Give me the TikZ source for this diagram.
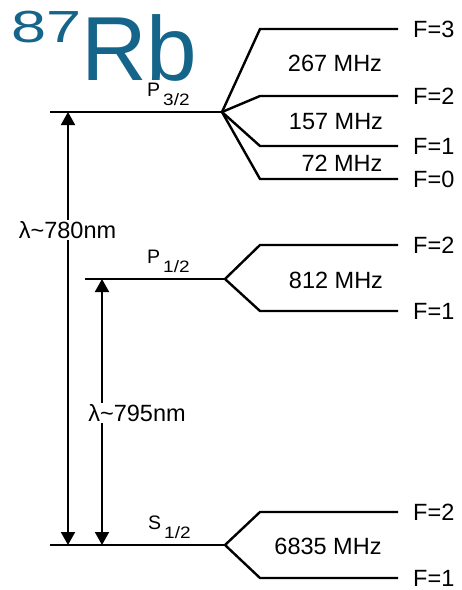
\documentclass[tikz,border=0pt]{standalone}
\usepackage{fontspec}
\setmainfont{Liberation Sans}
\usepackage{xcolor}
\usetikzlibrary{arrows.meta, positioning}
\definecolor{Rb_Teal}{HTML}{15658A}
\newcommand{\termsym}[2]{#1\hspace{3pt}\raisebox{-9pt}{\fontsize{16.5}{18}\selectfont\scalebox{1.15}[1]{#2}}}

\begin{document}
\begin{tikzpicture}[x=1pt, y=-1pt,
    level/.style={line width=2.4pt},
    transition/.style={line width=2pt, {Triangle[length=13pt,width=14pt]}-{Triangle[length=13pt,width=14pt]}},
    flabel/.style={anchor=west, inner sep=0pt, font=\fontsize{23.5}{28}\selectfont},
    split/.style={inner sep=0pt, font=\fontsize{23.5}{28}\selectfont},
    term/.style={anchor=base west, inner sep=0pt, font=\fontsize{19.5}{22}\selectfont},
    wave/.style={fill=white, inner sep=1pt, font=\fontsize{23.5}{28}\selectfont}]
    \useasboundingbox (0,0) rectangle (462,590);

    % Isotope title
    \node[anchor=base west, inner sep=0pt, Rb_Teal, font=\fontsize{91}{100}\selectfont] (rb) at (81,80) {Rb};
    \node[anchor=base west, inner sep=0pt, Rb_Teal, font=\fontsize{45}{50}\selectfont] (mass) at (11,42) {\scalebox{1.4}[1]{87}};

    % Fine structure levels
    \coordinate (p32) at (50,112);   \coordinate (p32x) at (222,112);
    \coordinate (p12) at (85,279);   \coordinate (p12x) at (225,279);
    \coordinate (s12) at (50,545);   \coordinate (s12x) at (225,545);
    \draw[level] (p32) -- (p32x);
    \draw[level] (p12) -- (p12x);
    \draw[level] (s12) -- (s12x);

    \node[term] (p32lbl) at (147,96) {\termsym{P}{3/2}};
    \node[term] (p12lbl) at (147,263) {\termsym{P}{1/2}};
    \node[term] (s12lbl) at (148,529) {\termsym{S}{1/2}};

    % Hyperfine splitting of P3/2
    \foreach \f/\y in {3/29, 2/96, 1/146, 0/179} {
        \draw[level] (p32x) -- (260,\y) -- (398,\y) coordinate (p32f\f);
        \node[flabel, right=15pt of p32f\f] {F=\f};
    }
    \node[split] (d267) at (335,63) {267 MHz};
    \node[split] (d157) at (336,122) {157 MHz};
    \node[split] (d72) at (342,163) {72 MHz};

    % Hyperfine splitting of P1/2
    \foreach \f/\y in {2/245, 1/311} {
        \draw[level] (p12x) -- (260,\y) -- (398,\y) coordinate (p12f\f);
        \node[flabel, right=15pt of p12f\f] {F=\f};
    }
    \node[split] (d812) at (336,280) {812 MHz};

    % Hyperfine splitting of S1/2
    \foreach \f/\y in {2/512, 1/578} {
        \draw[level] (s12x) -- (260,\y) -- (398,\y) coordinate (s12f\f);
        \node[flabel, right=15pt of s12f\f] {F=\f};
    }
    \node[split] (d6835) at (328,546) {6835 MHz};

    % D2 and D1 lines
    \coordinate (d2top) at (68,112);   \coordinate (d2bot) at (68,545);
    \coordinate (d1top) at (102,279);  \coordinate (d1bot) at (102,545);
    \draw[transition] (d2bot) -- (d2top);
    \draw[transition] (d1bot) -- (d1top);
    \node[wave] (d2lbl) at (67.5,230) {λ\textasciitilde780nm};
    \node[wave] (d1lbl) at (137,413) {λ\textasciitilde795nm};
\end{tikzpicture}
\end{document}
